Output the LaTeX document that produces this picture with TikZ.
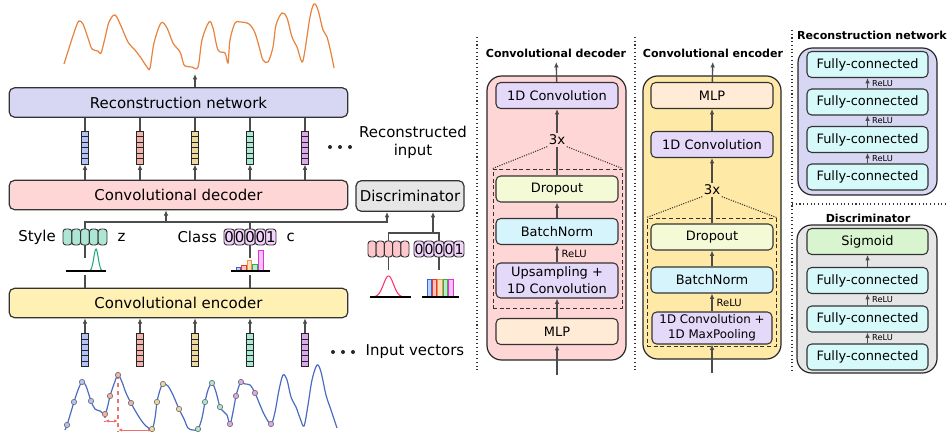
\documentclass[tikz,border=0pt]{standalone}
\usepackage{fontspec}
\setmainfont{DejaVu Sans}
\usetikzlibrary{calc,positioning,arrows.meta}

\definecolor{recfill}{HTML}{D7D7F4}
\definecolor{decfill}{HTML}{FFD6D6}
\definecolor{encfill}{HTML}{FFF0B3}
\definecolor{encpanel}{HTML}{FFE9A6}
\definecolor{disfill}{HTML}{E6E6E6}
\definecolor{convfill}{HTML}{E5D9FA}
\definecolor{mlpfill}{HTML}{FFEBD6}
\definecolor{dropfill}{HTML}{F4FAD6}
\definecolor{bnfill}{HTML}{D6F4FC}
\definecolor{fcfill}{HTML}{D6FAFA}
\definecolor{sigfill}{HTML}{D9F5CF}
\definecolor{vblue}{HTML}{B3C2F7}
\definecolor{vred}{HTML}{F2B3AB}
\definecolor{vtan}{HTML}{EDD9A0}
\definecolor{vteal}{HTML}{A8E8D4}
\definecolor{vpurple}{HTML}{DDA8EB}
\definecolor{stylefill}{HTML}{AEE6D6}
\definecolor{classfill}{HTML}{F2D3FA}
\definecolor{fakefill}{HTML}{FFC6CC}
\definecolor{sigblue}{HTML}{4A6CC0}
\definecolor{sigorange}{HTML}{E8823C}
\definecolor{gaussgreen}{HTML}{22AA77}
\definecolor{gaussred}{HTML}{FF3366}
\definecolor{barb}{HTML}{3366DD}
\definecolor{barr}{HTML}{EE3333}
\definecolor{baro}{HTML}{EE9933}
\definecolor{barg}{HTML}{33AA55}
\definecolor{barm}{HTML}{DD33DD}
\definecolor{stride}{HTML}{F07070}

\tikzset{
  lbl/.style={font=\fontsize{11.2}{13.5}\selectfont},
  box/.style={lbl, draw=black!80, line width=0.9pt, rounded corners=4pt, inner sep=0pt},
  bigbox/.style={box, minimum width=254pt, minimum height=22pt},
  layer/.style={draw=black!80, line width=0.8pt, rounded corners=3.5pt, inner sep=0pt,
    minimum width=91.5pt, minimum height=19.5pt, align=center,
    font=\fontsize{9.7}{12.7}\selectfont},
  panel/.style={draw=black!85, line width=0.9pt, rounded corners=11pt, inner sep=0pt},
  rep/.style={draw=black!80, line width=0.7pt, densely dashed},
  trap/.style={draw=black!80, line width=0.8pt, densely dotted},
  ttl/.style={font=\fontsize{8.3}{10}\selectfont\bfseries},
  times/.style={font=\fontsize{10}{12}\selectfont, inner sep=1pt},
  link/.style={draw=black!70, line width=1pt},
  arr/.style={link, -{Latex[length=4pt,width=3.5pt]}},
  relu/.style={right, xshift=2pt, inner sep=1pt, font=\fontsize{7.5}{9}\selectfont},
  srelu/.style={right, xshift=2pt, inner sep=1pt, font=\fontsize{6.2}{8}\selectfont},
  sep/.style={black!80, line width=0.8pt, dotted},
  cell/.style={lbl, draw=black!80, line width=0.7pt, rounded corners=2.2pt, inner sep=0pt,
    minimum height=12pt, fill=#1},
  vec/.style={draw=black!85, line width=0.7pt, fill=#1, inner sep=0pt,
    minimum width=5.25pt, minimum height=24.75pt,
    path picture={\foreach \k in {1,...,5}
      \draw[black!85, line width=0.5pt]
        ($(path picture bounding box.north west)!\k/6!(path picture bounding box.south west)$) --
        ($(path picture bounding box.north east)!\k/6!(path picture bounding box.south east)$);}},
}

\begin{document}
\begin{tikzpicture}[x=0.75pt,y=-0.75pt]
\useasboundingbox (0,0) rectangle (949,439);

%%%%% overall model
\node[bigbox, fill=recfill] (rec) at (178.5,102.5) {Reconstruction network};
\node[bigbox, fill=decfill] (dec) at (178.5,195) {Convolutional decoder};
\node[bigbox, fill=encfill] (enc) at (178.5,303) {Convolutional encoder};
\node[box, fill=disfill, minimum width=81pt, minimum height=23pt] (dis) at (410,196) {Discriminator};

% window vectors
\foreach \c [count=\i] in {vblue,vred,vtan,vteal,vpurple} {
  \pgfmathsetmacro\xv{30+55*\i}
  \node[vec=\c] (rv\i) at (\xv,147.5) {};
  \node[vec=\c] (iv\i) at (\xv,350) {};
  \draw[link] (rv\i) -- (rv\i |- rec.south);
  \draw[arr] (rv\i |- dec.north) -- (rv\i);
  \draw[arr] (iv\i) -- (iv\i |- enc.south);
}
\foreach \dx in {0,10,20} {
  \fill[black!85] (330+\dx,147) circle (1.5pt);
  \fill[black!85] (333+\dx,352) circle (1.5pt);
}
\node[lbl, align=center] (recl) at (413,142.5) {Reconstructed\\input};
\node[lbl, anchor=west] (inl) at (361,352) {Input vectors};

% reconstructed signal
\coordinate (outsig) at (195,74);
\draw[arr] (outsig |- rec.north) -- (outsig);
\draw[sigorange, line width=0.9pt] plot[smooth, tension=0.55] coordinates {
  (64,64) (70,45) (76,27) (79,21) (83,24) (88,38) (92,49) (98,51) (101,53)
  (105,38) (109,22) (115,15) (121,26) (128,42) (135,50) (141,58) (147,67) (150,68)
  (154,43) (161,23) (167,28) (173,43) (180,52) (183,62) (185,66) (192,67) (198,67)
  (202,40) (209,22) (213,28) (218,50) (225,53) (228,63) (230,40) (235,23) (240,22)
  (249,24) (255,33) (260,50) (263,60) (268,62) (273,47) (276,25) (282,13) (287,18)
  (292,37) (297,47) (302,62) (305,50) (310,17) (314,4) (318,10) (323,30) (327,37)
  (331,53) (334,68)};

% style and class codes
\foreach \i in {1,...,5}
  \node[cell=stylefill, minimum width=6.6pt] (sz\i) at (58.6+8.8*\i,237) {};
\foreach \d [count=\i] in {0,0,0,0,1}
  \node[cell=classfill, minimum width=7.8pt] (cz\i) at (218.8+10.4*\i,237) {\d};
\node[lbl, left=1.5pt of sz1] (stl) {Style};
\node[lbl, right=4pt of sz5] (zl) {z};
\node[lbl, left=1.5pt of cz1] (cll) {Class};
\node[lbl, right=4pt of cz5] (cl) {c};

\coordinate (bus) at (0,222);
\path (dis.south) ++(-23,0) coordinate (dl) ++(46,0) coordinate (dr);
\coordinate (tap) at (166,222);
\draw[arr] (sz3.north) |- (bus -| dl) -- (dl);
\draw[link] (cz3.north) -- (cz3.north |- bus);
\draw[arr] (tap) -- (tap |- dec.south);
\draw[link] (sz3.south) -- +(0,13);
\draw[link] (enc.north -| sz3) -- +(0,-13);
\draw[link] (cz3.south) -- +(0,13);
\draw[link] (enc.north -| cz3) -- +(0,-13);

% style prior and class histogram
\draw[gaussgreen, line width=0.8pt] plot[domain=-9:9, samples=41] ({96+\x},{271-22*exp(-(\x*\x)/9.7)});
\draw[black, line width=0.8pt] (66,271) -- (106,271);
\foreach \c/\h [count=\j] in {barb/4,barr/6,baro/11,barg/7,barm/21}
  \filldraw[draw=\c, fill=\c!30, line width=0.6pt] ({230.4+5.6*\j},271) rectangle ++(4.6,-\h);
\draw[black, line width=0.8pt] (231,271) -- (270,271);

% discriminator inputs
\foreach \i in {1,...,5}
  \node[cell=fakefill, minimum width=6.15pt] (dz\i) at (368+8.2*\i-4.1,249) {};
\foreach \d [count=\i] in {0,0,0,0,1}
  \node[cell=classfill, minimum width=7.5pt, font=\fontsize{10.5}{12}\selectfont] (dc\i) at (409+10*\i,249) {\d};
\coordinate (dbus) at (0,233);
\draw[link] (dz3.north) |- (dbus -| dc3) -- (dc3.north);
\draw[arr] (dbus -| dr) -- (dr);
\draw[link] (dz3.south) -- +(0,13);
\draw[link] (dc3.south) -- +(0,13);
\draw[gaussred, line width=0.8pt] plot[domain=-18:18, samples=61] ({388.5+\x},{297-21*exp(-(\x*\x)/50)});
\draw[black, line width=0.8pt] (370,297) -- (411,297);
\foreach \c [count=\j] in {barb,barr,baro,barg,barm}
  \filldraw[draw=\c, fill=\c!30, line width=0.6pt] ({421.6+5.4*\j},297) rectangle ++(4.4,-18);
\draw[black, line width=0.8pt] (422,297) -- (459,297);

% input signal with sampled windows
\draw[stride, line width=0.8pt, dashed] (118,375) -- (118,432);
\draw[stride, line width=0.8pt, densely dashed] (105,414) -- (105,421);
\draw[stride, line width=0.7pt, {Latex[length=3pt,width=2.5pt]}-{Latex[length=3pt,width=2.5pt]}] (105,421) -- (118,421);
\draw[stride, line width=0.7pt, {Latex[length=3pt,width=2.5pt]}-{Latex[length=3pt,width=2.5pt]}] (118,430) -- (152,430);
\draw[sigblue, line width=0.9pt] plot[smooth, tension=0.55] coordinates {
  (65,430) (67,425) (71,412) (74,402) (78,390) (82,382) (86,386) (91,401) (95,409)
  (100,411) (105,414) (108,405) (110,396) (114,384) (118,375) (122,382) (126,393)
  (131,403) (136,412) (141,420) (146,426) (152,429) (155,418) (157,402) (160,390)
  (163,384) (168,386) (173,395) (179,409) (184,419) (188,428) (193,430) (198,429)
  (202,418) (205,402) (208,390) (212,383) (216,392) (220,407) (224,412) (227,415)
  (230,424) (233,412) (236,396) (239,386) (241,382) (245,384) (250,385) (255,393)
  (260,405) (265,416) (271,424) (275,412) (279,390) (283,375) (287,380) (291,397)
  (296,407) (300,418) (304,426) (308,405) (312,380) (317,365) (321,372) (326,395)
  (331,410) (337,428)};
\foreach \px/\py/\c in {67/425/vblue, 74/402/vblue, 82/382/vblue, 91/401/vblue,
    105/414/vred, 110/396/vred, 118/375/vred, 131/403/vred,
    152/429/vtan, 157/402/vtan, 163/384/vtan, 179/409/vtan,
    198/429/vteal, 205/402/vteal, 212/383/vteal, 220/407/vteal,
    230/424/vpurple, 236/396/vpurple, 241/382/vpurple, 255/393/vpurple, 271/424/vpurple}
  \filldraw[fill=\c, draw=black!55, line width=0.5pt] (\px,\py) circle (2pt);

%%%%% separators
\draw[sep] (477,37) -- (477,372);
\draw[sep] (635,37) -- (635,372);
\draw[sep] (792,30) -- (792,373);
\draw[sep] (792,204) -- (949,204);

%%%%% decoder detail
\node[ttl] (dttl) at (556,53) {Convolutional decoder};
\node[panel, fill=decfill, minimum width=104.25pt, minimum height=213pt] (dpan) at (556.5,218) {};
\node[rep, minimum width=96.75pt, minimum height=104.25pt] (drep) at (557.5,238.5) {};
\node[layer, fill=convfill] (dconv) at (557,95.5) {1D Convolution};
\node[times] (dtimes) at (557,140) {3x};
\node[layer, fill=dropfill] (ddrop) at (557,189) {Dropout};
\node[layer, fill=bnfill] (dbn) at (557,231.5) {BatchNorm};
\node[layer, fill=convfill, minimum height=26.25pt] (dups) at (557,280.5) {Upsampling +\\1D Convolution};
\node[layer, fill=mlpfill] (dmlp) at (557,331.5) {MLP};
\coordinate (din) at (557,375);
\draw[arr] (din) -- (dmlp);
\draw[arr] (dmlp) -- (dups);
\draw[arr] (dups) -- node[relu] {ReLU} (dbn);
\draw[arr] (dbn) -- (ddrop);
\draw[link] (ddrop) -- (dtimes);
\draw[arr] (dtimes) -- (dconv);
\draw[arr] (dconv) -- (dttl);
\draw[trap] (dtimes.south west) -- (drep.north west) (dtimes.south east) -- (drep.north east);

%%%%% encoder detail
\node[ttl] (ettl) at (713,53) {Convolutional encoder};
\node[panel, fill=encpanel, minimum width=103.5pt, minimum height=212.25pt] (epan) at (712,217.5) {};
\node[rep, minimum width=96.75pt, minimum height=96pt] (erep) at (711.5,282) {};
\node[layer, fill=mlpfill] (emlp) at (712,95.5) {MLP};
\node[layer, fill=convfill] (econv) at (712,144.5) {1D Convolution};
\node[times] (etimes) at (712,190) {3x};
\node[layer, fill=dropfill] (edrop) at (712,237) {Dropout};
\node[layer, fill=bnfill] (ebn) at (712,280) {BatchNorm};
\node[layer, fill=convfill, minimum width=90pt, minimum height=24pt, font=\fontsize{8.9}{11.5}\selectfont] (epool) at (712,328) {1D Convolution +\\1D MaxPooling};
\coordinate (ein) at (712,373);
\draw[arr] (ein) -- (epool);
\draw[arr] (epool) -- node[relu] {ReLU} (ebn);
\draw[arr] (ebn) -- (edrop);
\draw[link] (edrop) -- (etimes);
\draw[arr] (etimes) -- (econv);
\draw[arr] (econv) -- (emlp);
\draw[arr] (emlp) -- (ettl);
\draw[trap] (etimes.south west) -- (erep.north west) (etimes.south east) -- (erep.north east);

%%%%% reconstruction network detail
\node[ttl] (rttl) at (872,35) {Reconstruction network};
\node[panel, fill=recfill, minimum width=104.25pt, minimum height=110.25pt] (rpan) at (867.5,121.5) {};
\foreach \yy [count=\i] in {64.5,102,139.5,177}
  \node[layer, fill=fcfill, minimum width=90.75pt] (rfc\i) at (867.5,\yy) {Fully-connected};
\foreach \i [evaluate=\i as \j using int(\i-1)] in {2,3,4}
  \draw[arr] (rfc\i) -- node[srelu] {ReLU} (rfc\j);

%%%%% discriminator detail
\node[ttl] (xttl) at (868,218) {Discriminator};
\node[panel, fill=disfill, minimum width=105pt, minimum height=111pt] (xpan) at (867,299) {};
\node[layer, fill=sigfill, minimum width=90.75pt] (xsig) at (867.5,241.5) {Sigmoid};
\foreach \yy [count=\i] in {280.5,319,357}
  \node[layer, fill=fcfill, minimum width=90.75pt] (xfc\i) at (867.5,\yy) {Fully-connected};
\draw[arr] (xfc1) -- (xsig);
\draw[arr] (xfc2) -- node[srelu] {ReLU} (xfc1);
\draw[arr] (xfc3) -- node[srelu] {ReLU} (xfc2);

\end{tikzpicture}
\end{document}
